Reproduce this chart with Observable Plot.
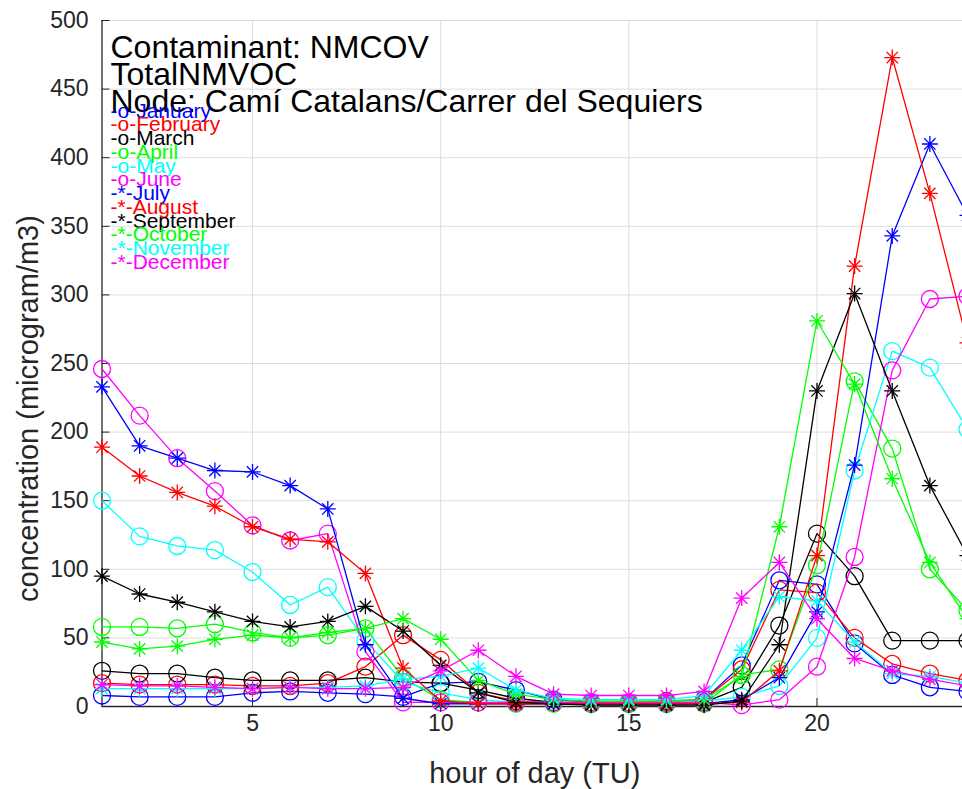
<!DOCTYPE html>
<html><head><meta charset="utf-8">
<script src="https://cdn.jsdelivr.net/npm/d3@7"></script>
<script src="https://cdn.jsdelivr.net/npm/@observablehq/plot@0.6"></script>
<style>
html,body{margin:0;padding:0;background:#fff;overflow:hidden;}
#chart svg{overflow:hidden;display:block;}
</style></head><body><div id="chart"></div>
<script>
const hours = [1,2,3,4,5,6,7,8,9,10,11,12,13,14,15,16,17,18,19,20,21,22,23,24];
const months = ["January","February","March","April","May","June","July","August","September","October","November","December"];
const monthColors = ["#0000ff","#ff0000","#000000","#00ff00","#00ffff","#ff00ff","#0000ff","#ff0000","#000000","#00ff00","#00ffff","#ff00ff"];
const monthMarkers = ["o","o","o","o","o","o","*","*","*","*","*","*"];

const january   = [8,7,7,7,10,11,10,9,7,17,18,12,5,3,3,3,5,30,92,89,46,23,14,11];
const february  = [17,16,16,16,15,15,17,29,52,34,10,4,3,3,3,4,5,27,85,83,50,31,24,19];
const march     = [26,24,24,21,19,19,19,21,18,17,12,6,3,2,2,2,3,14,59,126,95,48,48,48];
const april     = [58,58,57,60,54,50,52,57,21,5,3,2,2,2,2,2,2,23,27,103,237,188,100,70];
const may       = [150,124,117,114,98,74,87,48,18,10,5,3,3,3,3,3,4,7,15,50,172,259,247,202];
const june      = [246,212,181,157,132,121,126,40,3,3,3,3,3,3,3,3,3,1,5,29,109,245,297,299];
const july      = [233,190,181,172,171,161,144,45,6,2,2,2,2,2,2,2,2,5,21,69,176,343,410,358];
const august    = [189,168,156,146,131,122,120,97,28,4,2,2,2,2,2,2,2,3,26,110,321,473,374,265];
const september = [95,82,76,69,62,58,62,73,55,30,10,3,2,1,1,1,1,4,45,230,301,230,161,110];
const october   = [47,42,44,49,52,50,54,57,64,49,19,9,5,4,4,4,5,22,131,281,235,166,105,64];
const november  = [13,13,13,13,13,14,14,15,20,22,28,12,6,5,5,5,8,41,80,77,47,24,22,17];
const december  = [16,15,15,14,13,14,13,13,14,26,41,22,9,8,8,8,11,79,105,64,35,26,20,15];
const seriesValues = [january,february,march,april,may,june,july,august,september,october,november,december];

const yTicks = [0,50,100,150,200,250,300,350,400,450,500];
const xTicks = [5,10,15,20];
const titleLines = ["Contaminant: NMCOV","TotalNMVOC","Node: Camí Catalans/Carrer del Sequiers"];
const xLabel = "hour of day (TU)";
const yLabel = "concentration (microgram/m3)";

const star8 = {
  draw(ctx, size) {
    const r = Math.sqrt(size / Math.PI);
    const d = r * Math.SQRT1_2;
    ctx.moveTo(-r, 0); ctx.lineTo(r, 0);
    ctx.moveTo(0, -r); ctx.lineTo(0, r);
    ctx.moveTo(-d, -d); ctx.lineTo(d, d);
    ctx.moveTo(-d, d); ctx.lineTo(d, -d);
  }
};

const seriesMarks = months.flatMap((m, i) => {
  const rows = hours.map((h, j) => ({hour: h, value: seriesValues[i][j]}));
  const isStar = monthMarkers[i] === "*";
  return [
    Plot.line(rows, {x: "hour", y: "value", stroke: monthColors[i], strokeWidth: 1.3, clip: true}),
    Plot.dot(rows, {x: "hour", y: "value", stroke: monthColors[i], fill: "none", strokeWidth: 1.3,
      r: isStar ? 8 : 8.5, symbol: isStar ? star8 : "circle"})
  ];
});

const legendMarks = months.map((m, i) =>
  Plot.text([`-${monthMarkers[i]}-${m}`], {text: d => d, frameAnchor: "top-left", textAnchor: "start",
    lineAnchor: "bottom", dx: 8.5, dy: 97 + i * 13.75, fill: monthColors[i], fontSize: 21})
);

const titleMarks = titleLines.map((t, i) =>
  Plot.text([t], {text: d => d, frameAnchor: "top-left", textAnchor: "start", lineAnchor: "bottom",
    dx: 8.5, dy: 37 + i * 27, fill: "#000", fontSize: 32})
);

const chart = Plot.plot({
  width: 962,
  height: 789,
  marginLeft: 101.5,
  marginRight: -5,
  marginTop: 20,
  marginBottom: 83,
  style: {fontFamily: "'Liberation Sans', Arial, Helvetica, sans-serif", color: "#262626", background: "#fff", overflow: "hidden"},
  x: {domain: [1, 24]},
  y: {domain: [0, 500]},
  marks: [
    Plot.gridY(yTicks, {stroke: "#dedede", strokeOpacity: 1, strokeWidth: 1}),
    Plot.gridX(xTicks, {stroke: "#dedede", strokeOpacity: 1, strokeWidth: 1}),
    Plot.axisY(yTicks, {tickSize: -8, tickPadding: 21.5, fontSize: 23, label: null, stroke: "#262626", fill: "#262626"}),
    Plot.axisX(xTicks, {tickSize: -8, tickPadding: 16, fontSize: 23, label: null, stroke: "#262626", fill: "#262626"}),
    Plot.ruleX([1], {stroke: "#262626", strokeWidth: 1.3}),
    Plot.ruleY([0], {stroke: "#262626", strokeWidth: 1.3}),
    ...seriesMarks,
    ...titleMarks,
    ...legendMarks,
    Plot.text([yLabel], {text: d => d, frameAnchor: "left", rotate: -90, dx: -73.5, dy: 45, fontSize: 29, fill: "#262626", textAnchor: "middle", lineAnchor: "middle"}),
    Plot.text([xLabel], {text: d => d, frameAnchor: "bottom", dx: 0, dy: 67, fontSize: 29, fill: "#262626", textAnchor: "middle", lineAnchor: "middle"})
  ]
});
document.getElementById("chart").appendChild(chart);
</script>
</body></html>
